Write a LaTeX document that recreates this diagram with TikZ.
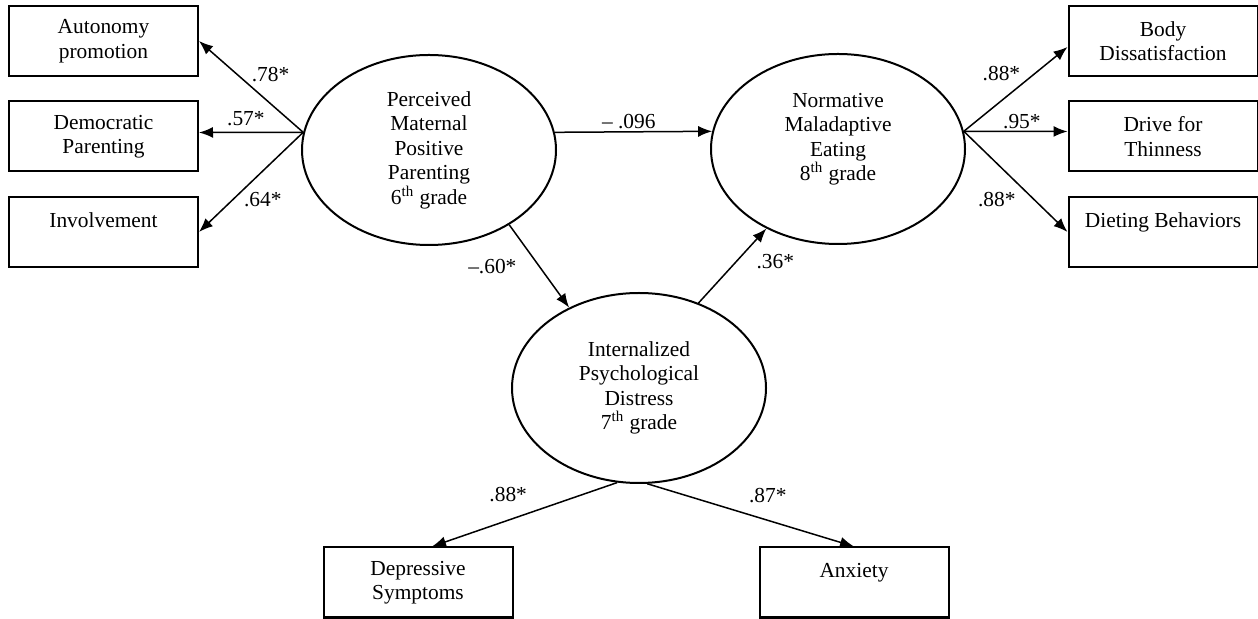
\documentclass[tikz,border=0pt]{standalone}
\usepackage{fontspec}
\setmainfont{Liberation Serif}
\usetikzlibrary{shapes,arrows.meta}

\begin{document}
\begin{tikzpicture}[->,>={Latex[length=7pt,width=5.5pt]},x=0.5pt,y=-0.5pt,node distance=47.75pt,line width=0.75pt,font=\fontsize{10.7}{12.25}\selectfont]
\tikzstyle{obs}=[draw,rectangle,line width=1pt,minimum width=94.5pt,minimum height=35pt,align=center,inner sep=0pt]
\tikzstyle{lat}=[draw,ellipse,line width=1pt,minimum width=127pt,minimum height=95pt,align=center,inner sep=0pt]
\tikzstyle{lbl}=[inner sep=1pt]
\useasboundingbox (0,0) rectangle (1258,619);
% latent factors
\node[lat] (ppp) at (429,150) {Perceived\\Maternal\\Positive\\Parenting\\6\textsuperscript{th} grade};
\node[lat] (nme) at (838,149) {Normative\\Maladaptive\\Eating\\8\textsuperscript{th} grade\\~};
\node[lat] (ipd) at (639,388) {Internalized\\Psychological\\Distress\\7\textsuperscript{th} grade};
% indicators
\node[obs] (aut) at (103.5,41) {Autonomy\\promotion};
\node[obs][below of=aut] (dem) {Democratic\\Parenting};
\node[obs][below of=dem] (inv) {Involvement\\~};
\node[obs] (bod) at (1163,41) {Body\\Dissatisfaction};
\node[obs][below of=bod] (dft) {Drive for\\Thinness};
\node[obs][below of=dft] (die) {Dieting Behaviors\\~};
\node[obs] (dep) at (418,582.5) {Depressive\\Symptoms};
\node[obs][right of=dep,node distance=218pt] (anx) {Anxiety\\~};
\coordinate (pl) at (ppp.172);
\coordinate (nr) at (nme.8);
\path (pl) edge node[lbl,pos=.52,above right]{.78*} (aut.east)
           edge node[lbl,pos=.55,above=2pt]{.57*} ([yshift=2pt]dem.east)
           edge node[lbl,pos=.67,right=4pt]{.64*} (inv.east)
      (ppp.8) edge node[lbl,pos=.47,above]{-- .096} (nme.172)
      (ppp.-43) edge node[lbl,pos=.5,left=10pt]{--.60*} (ipd.131)
      (ipd.55) edge node[lbl,pos=.55,right=9pt]{.36*} (nme.-132)
      (nr) edge node[lbl,pos=.57,above left]{.88*} ([yshift=-3pt]bod.west)
           edge node[lbl,pos=.56,above]{.95*} ([yshift=2.5pt]dft.west)
           edge node[lbl,pos=.68,left=8pt]{.88*} (die.west)
      (ipd.-103) edge node[lbl,pos=.44,above left=3pt]{.88*} ([xshift=7pt]dep.north)
      (ipd.-85) edge node[lbl,pos=.45,above right=3pt]{.87*} (anx.north);
\end{tikzpicture}
\end{document}
